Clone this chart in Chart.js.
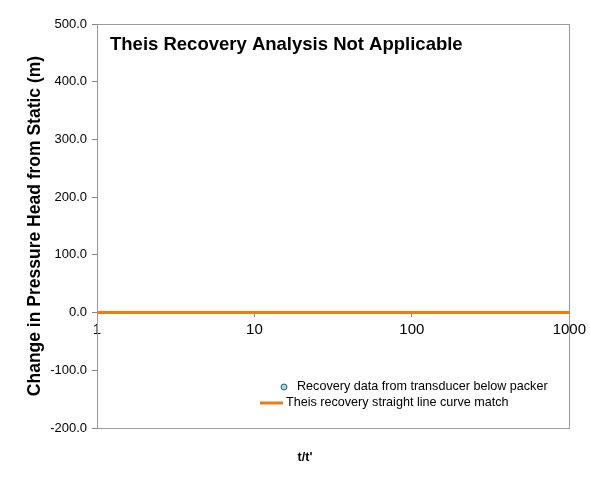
<!DOCTYPE html>
<html>
<head>
<meta charset="utf-8">
<script src="https://cdn.jsdelivr.net/npm/chart.js@4.4.1/dist/chart.umd.min.js"></script>
<style>
  html, body { margin: 0; padding: 0; background: #fff; }
  #wrap { width: 590px; height: 484px; position: relative; }
</style>
</head>
<body>
<div id="wrap"><canvas id="myChart"></canvas></div>
<script>
// recovery data (none collected) and straight line match
const recoveryT = [];
const recoveryHead = [];
const lineT = [1, 1000];
const lineHead = [0, 0];
const xTickValues = [1, 10, 100, 1000];
const yMin = -200, yMax = 500, yStep = 100;
const note = 'Theis Recovery Analysis Not Applicable';
const xTitle = "t/t'";
const yTitle = 'Change in Pressure Head from Static (m)';

const FONT = 'Arial, "Liberation Sans", sans-serif';

const boxPlugin = {
  id: 'boxPlugin',
  afterDraw(chart) {
    const { ctx, chartArea: a } = chart;
    ctx.save();
    ctx.strokeStyle = '#9a9a9a';
    ctx.lineWidth = 1;
    ctx.strokeRect(Math.round(a.left) + 0.5, Math.round(a.top) + 0.5,
      Math.round(a.right - a.left), Math.round(a.bottom - a.top));

    // note inside the plot
    ctx.fillStyle = '#000';
    ctx.font = 'bold 18.5px ' + FONT;
    ctx.textBaseline = 'middle';
    ctx.textAlign = 'left';
    ctx.fillText(note, a.left + 13, a.top + 21);

    // x title
    ctx.font = 'bold 12.5px ' + FONT;
    ctx.textAlign = 'center';
    ctx.fillText(xTitle, 305, 458);

    // legend in lower right
    const ds = chart.data.datasets;
    ctx.font = '12.6px ' + FONT;
    ctx.textAlign = 'left';
    // marker entry
    ctx.beginPath();
    ctx.arc(284, 387, 3, 0, Math.PI * 2);
    ctx.fillStyle = ds[0].backgroundColor;
    ctx.fill();
    ctx.strokeStyle = ds[0].borderColor;
    ctx.lineWidth = 1;
    ctx.stroke();
    ctx.fillStyle = '#000';
    ctx.fillText(ds[0].label, 297, 387);
    // line entry
    ctx.beginPath();
    ctx.moveTo(260, 403);
    ctx.lineTo(283, 403);
    ctx.strokeStyle = ds[1].borderColor;
    ctx.lineWidth = 3;
    ctx.stroke();
    ctx.fillText(ds[1].label, 286, 403);
    ctx.restore();
  }
};

new Chart(document.getElementById('myChart'), {
  type: 'scatter',
  data: {
    datasets: [{
      label: 'Recovery data from transducer below packer',
      data: recoveryT.map((t, i) => ({ x: t, y: recoveryHead[i] })),
      backgroundColor: '#9ed8ea',
      borderColor: '#2f5f7a',
      pointRadius: 3
    }, {
      label: 'Theis recovery straight line curve match',
      data: lineT.map((t, i) => ({ x: t, y: lineHead[i] })),
      showLine: true,
      borderColor: '#f07a17',
      backgroundColor: '#f07a17',
      borderWidth: 3,
      pointRadius: 0
    }]
  },
  options: {
    responsive: true,
    maintainAspectRatio: false,
    animation: false,
    layout: { padding: { top: 24, right: 20, bottom: 56, left: 0 } },
    plugins: {
      legend: { display: false },
      tooltip: { enabled: false }
    },
    scales: {
      x: {
        type: 'logarithmic',
        min: 1,
        max: 1000,
        position: { y: 0 },
        afterBuildTicks: (s) => { s.ticks = xTickValues.map(v => ({ value: v })); },
        ticks: {
          color: '#000',
          font: { family: FONT, size: 15 },
          maxRotation: 0,
          autoSkip: false,
          padding: 4,
          callback: (v) => String(v)
        },
        grid: { drawOnChartArea: false, drawTicks: true, tickLength: 4, color: '#888' },
        border: { color: '#888' }
      },
      y: {
        min: yMin,
        max: yMax,
        afterFit: (s) => { s.width = 97; },
        ticks: {
          stepSize: yStep,
          color: '#000',
          font: { family: FONT, size: 13 },
          padding: 5,
          callback: (v) => v.toFixed(1)
        },
        grid: { drawOnChartArea: false, drawTicks: true, tickLength: 5, color: '#888' },
        border: { color: '#888' },
        title: {
          display: true,
          text: yTitle,
          color: '#000',
          font: { family: FONT, size: 17.5, weight: 'bold' },
          padding: { top: 25, bottom: 0 }
        }
      }
    }
  },
  plugins: [boxPlugin]
});
</script>
</body>
</html>
